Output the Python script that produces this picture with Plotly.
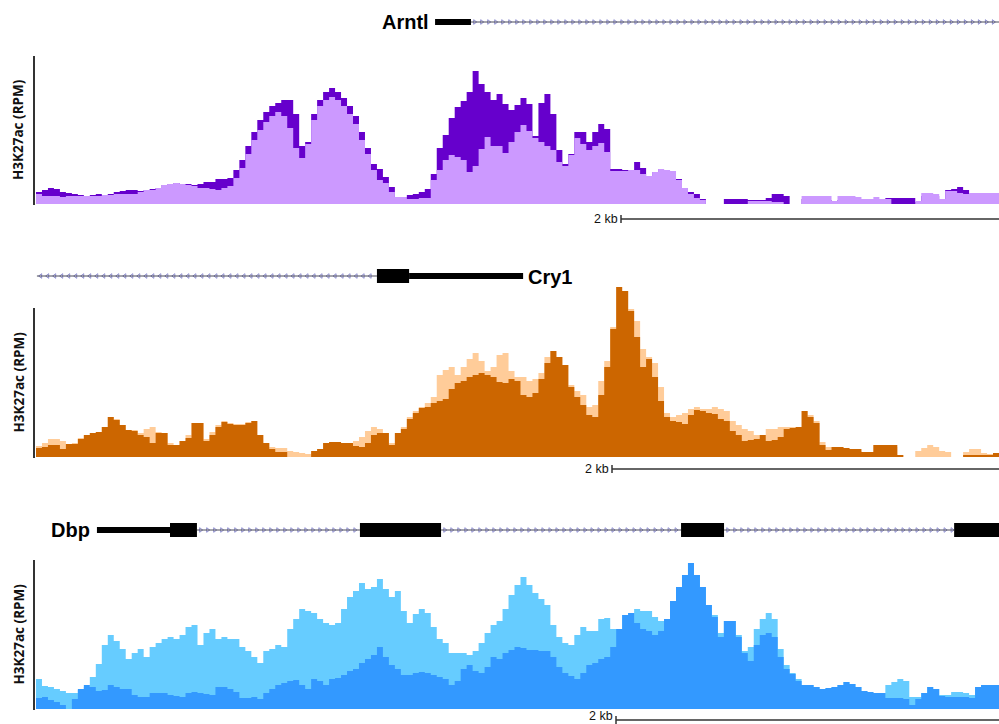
import numpy as np
import plotly.graph_objects as go

W, H = 999, 724
BIN_KB = 0.032  # width of one coverage bin, in kb

# ---- H3K27ac coverage (RPM, binned) -------------------------------------
ARNTL_DARK = [12, 14, 16, 15, 12, 11, 10, 9, 8, 9, 10, 9, 10, 12, 13, 14, 14, 13, 14, 15,
              16, 19, 20, 21, 20, 20, 19, 20, 22, 22, 25, 25, 26, 34, 44, 58, 72, 84, 92, 98,
              101, 104, 104, 90, 58, 62, 90, 104, 112, 116, 112, 106, 98, 88, 72, 56, 40, 35, 27, 17,
              7, 7, 9, 10, 12, 15, 30, 56, 69, 86, 97, 103, 112, 133, 120, 112, 104, 110, 100, 94,
              99, 106, 100, 68, 101, 110, 90, 54, 40, 50, 72, 72, 62, 72, 80, 75, 35, 35, 34, 34,
              42, 36, 28, 32, 35, 34, 33, 25, 16, 12, 10, 5, 0, 0, 0, 5, 5, 5, 5, 4,
              4, 4, 6, 10, 10, 8, 0, 0, 5, 4, 4, 4, 4, 3, 4, 4, 4, 4, 3, 3,
              3, 4, 6, 6, 6, 6, 6, 2, 8, 8, 8, 5, 14, 15, 17, 14, 10, 9, 8, 9, 9]
ARNTL_LIGHT = [10, 8, 8, 8, 7, 8, 8, 8, 8, 8, 8, 9, 9, 10, 10, 10, 10, 12, 14, 14,
               16, 19, 20, 21, 20, 19, 18, 16, 16, 15, 14, 16, 18, 26, 36, 50, 64, 74, 82, 88,
               92, 88, 76, 56, 46, 60, 84, 98, 104, 107, 104, 98, 90, 80, 64, 50, 34, 24, 21, 12,
               7, 7, 5, 5, 6, 6, 24, 34, 44, 49, 47, 44, 32, 38, 55, 67, 58, 58, 51, 62,
               72, 79, 73, 66, 62, 58, 54, 42, 38, 49, 66, 60, 54, 58, 61, 52, 33, 33, 33, 34,
               34, 30, 28, 32, 35, 34, 33, 24, 16, 10, 6, 4, 0, 0, 0, 0, 0, 0, 0, 3,
               3, 3, 3, 2, 2, 0, 0, 0, 8, 8, 8, 8, 8, 3, 8, 8, 8, 7, 5, 5,
               7, 5, 5, 0, 0, 0, 0, 3, 11, 11, 10, 5, 13, 13, 11, 10, 11, 11, 11, 11, 11]

CRY1_LIGHT = [11, 14, 18, 18, 16, 13, 14, 19, 22, 24, 25, 30, 40, 38, 32, 27, 27, 24, 28, 30,
              25, 24, 14, 12, 16, 22, 34, 34, 18, 25, 32, 36, 34, 33, 33, 35, 36, 22, 14, 10,
              9, 9, 6, 5, 4, 3, 4, 8, 14, 15, 15, 14, 14, 16, 20, 26, 30, 28, 24, 14,
              24, 30, 40, 46, 50, 54, 60, 82, 87, 90, 82, 90, 98, 104, 96, 86, 90, 102, 104, 86,
              80, 80, 76, 78, 84, 100, 106, 100, 92, 72, 66, 62, 50, 52, 76, 96, 130, 170, 166, 148,
              136, 108, 100, 94, 70, 44, 40, 42, 44, 48, 50, 48, 48, 50, 48, 46, 36, 32, 28, 26,
              22, 22, 28, 28, 30, 30, 30, 30, 46, 42, 36, 15, 10, 10, 10, 9, 7, 6, 5, 5,
              12, 12, 12, 10, 2, 0, 0, 6, 9, 12, 10, 6, 5, 0, 0, 5, 8, 8, 4, 3, 3]
CRY1_DARK = [9, 10, 12, 12, 8, 13, 13, 18, 22, 24, 25, 30, 40, 37, 32, 27, 26, 22, 20, 14,
             24, 24, 12, 12, 16, 19, 34, 34, 16, 22, 30, 35, 33, 32, 32, 34, 36, 22, 14, 8,
             5, 5, 0, 0, 0, 0, 6, 8, 14, 15, 15, 14, 14, 11, 10, 14, 22, 24, 24, 12,
             24, 28, 38, 44, 49, 50, 54, 56, 58, 68, 74, 76, 80, 82, 84, 82, 80, 75, 74, 78,
             76, 62, 60, 64, 78, 94, 106, 100, 92, 70, 60, 52, 42, 40, 62, 90, 128, 170, 166, 146,
             120, 90, 98, 80, 56, 40, 36, 35, 33, 42, 47, 46, 44, 43, 38, 36, 26, 22, 16, 17,
             18, 22, 16, 17, 20, 28, 29, 30, 46, 40, 34, 12, 7, 10, 10, 9, 8, 8, 5, 5,
             12, 12, 12, 12, 2, 0, 0, 0, 0, 0, 0, 0, 0, 0, 0, 2, 2, 2, 2, 2, 4]

DBP_LIGHT = [30, 23, 22, 20, 18, 16, 16, 19, 22, 32, 45, 64, 74, 68, 60, 50, 56, 60, 52, 62,
             66, 70, 72, 70, 74, 82, 84, 64, 76, 80, 70, 72, 70, 70, 62, 58, 52, 46, 58, 60,
             64, 62, 80, 90, 100, 98, 96, 90, 86, 84, 86, 100, 112, 118, 126, 120, 122, 130, 120, 112,
             118, 98, 86, 95, 100, 96, 82, 70, 66, 56, 56, 56, 54, 58, 66, 76, 84, 88, 100, 114,
             124, 132, 124, 116, 110, 104, 84, 72, 66, 64, 74, 82, 78, 78, 90, 91, 80, 80, 94, 96,
             100, 98, 98, 92, 88, 90, 108, 122, 134, 146, 134, 122, 104, 94, 76, 88, 88, 74, 58, 62,
             80, 90, 96, 90, 60, 44, 36, 30, 24, 24, 22, 20, 21, 22, 24, 27, 25, 22, 18, 17,
             16, 16, 24, 27, 30, 28, 12, 12, 16, 22, 20, 14, 14, 17, 17, 16, 14, 22, 24, 24, 24]
DBP_DARK = [11, 12, 9, 7, 4, 0, 10, 20, 24, 22, 18, 19, 24, 22, 20, 20, 14, 12, 12, 16,
            16, 16, 14, 13, 12, 16, 17, 16, 15, 14, 22, 22, 20, 17, 11, 11, 12, 10, 16, 20,
            24, 26, 28, 29, 24, 20, 30, 28, 24, 30, 31, 34, 38, 40, 46, 50, 54, 62, 52, 44,
            40, 34, 34, 36, 37, 36, 34, 32, 30, 24, 28, 40, 44, 38, 36, 42, 52, 50, 56, 59,
            62, 61, 59, 59, 58, 58, 52, 42, 36, 33, 30, 36, 44, 46, 50, 52, 62, 80, 94, 96,
            86, 80, 78, 74, 78, 90, 108, 122, 134, 146, 134, 122, 104, 92, 72, 88, 88, 72, 56, 48,
            64, 74, 76, 72, 52, 40, 35, 28, 24, 24, 22, 20, 21, 22, 24, 27, 25, 22, 18, 17,
            16, 16, 11, 11, 11, 10, 4, 10, 16, 22, 20, 13, 12, 12, 12, 12, 11, 22, 24, 24, 24]

# ---- gene models (kb, same coordinates as the coverage) -----------------
ARNTL_UTR = [(2.135, 2.327)]
ARNTL_CDS = []
ARNTL_INTRONS = [(2.327, 5.152)]

CRY1_UTR = [(1.996, 2.606)]
CRY1_CDS = [(1.824, 1.996)]
CRY1_INTRONS = [(0.005, 1.824)]

DBP_UTR = [(0.326, 0.717)]
DBP_CDS = [(0.717, 0.861), (1.733, 2.167), (3.451, 3.681), (4.912, 5.152)]
DBP_INTRONS = [(0.861, 1.733), (2.167, 3.451), (3.681, 4.912)]

N = len(ARNTL_LIGHT)
EDGES = np.arange(N + 1) * BIN_KB
XMAX = N * BIN_KB


def py(px):
    """pixel row -> paper y"""
    return 1 - px / H


def px_x(px):
    return px / W


# panel geometry: (baseline px, y-range in RPM units, axis-line top px)
PANELS = [
    dict(base=204, span=150, top=56, gene_y=22, scale_y=219, scale_x=621),
    dict(base=457, span=185, top=308, gene_y=276, scale_y=469, scale_x=612),
    dict(base=709, span=155, top=560, gene_y=530, scale_y=720, scale_x=616),
]

fig = go.Figure()


def add_track(panel_idx, back, front, back_color, front_color):
    xa = "x" if panel_idx == 0 else f"x{panel_idx + 1}"
    ya = "y" if panel_idx == 0 else f"y{panel_idx + 1}"
    for vals, col in ((back, back_color), (front, front_color)):
        yv = list(vals) + [vals[-1]]
        fig.add_trace(go.Scatter(
            x=EDGES, y=yv, xaxis=xa, yaxis=ya, mode="lines",
            line=dict(width=0, shape="hv", color=col),
            fill="tozeroy", fillcolor=col, hoverinfo="skip", showlegend=False))


add_track(0, ARNTL_DARK, ARNTL_LIGHT, "#6600cc", "#cc99ff")
add_track(1, CRY1_LIGHT, CRY1_DARK, "#ffcc99", "#cc6600")
add_track(2, DBP_LIGHT, DBP_DARK, "#66ccff", "#3399ff")

shapes = []
annotations = []

GENES = [
    ("Arntl", ARNTL_UTR, ARNTL_CDS, ARNTL_INTRONS, "+"),
    ("Cry1", CRY1_UTR, CRY1_CDS, CRY1_INTRONS, "-"),
    ("Dbp", DBP_UTR, DBP_CDS, DBP_INTRONS, "+"),
]

for i, (name, utr, cds, introns, strand) in enumerate(GENES):
    p = PANELS[i]
    xa = "x" if i == 0 else f"x{i + 1}"
    gy = p["gene_y"]
    # intron backbone with strand chevrons
    for s, e in introns:
        shapes.append(dict(type="line", xref=xa, yref="paper", x0=s, x1=e,
                           y0=py(gy), y1=py(gy), line=dict(color="#4a4a5a", width=1)))
        marks = np.arange(s + 0.02, e - 0.01, 0.0375)
        fig.add_trace(go.Scatter(
            x=marks, y=[gy] * len(marks), xaxis=xa, yaxis=f"y{i + 4}", mode="markers",
            marker=dict(symbol="triangle-right-open" if strand == "+" else "triangle-left-open",
                        size=4, color="#8f8fd0", line=dict(width=1, color="#8f8fd0")),
            hoverinfo="skip", showlegend=False))
    for s, e in utr:
        shapes.append(dict(type="rect", xref=xa, yref="paper", x0=s, x1=e,
                           y0=py(gy + 3), y1=py(gy - 3), fillcolor="black", line=dict(width=0)))
    for s, e in cds:
        shapes.append(dict(type="rect", xref=xa, yref="paper", x0=s, x1=e,
                           y0=py(gy + 7), y1=py(gy - 7), fillcolor="black", line=dict(width=0)))

    # vertical axis bar
    shapes.append(dict(type="line", xref="paper", yref="paper", x0=px_x(34), x1=px_x(34),
                       y0=py(p["base"] + 1), y1=py(p["top"]), line=dict(color="#333333", width=2)))
    # scale bar
    sx, sy = p["scale_x"], p["scale_y"]
    shapes.append(dict(type="line", xref="paper", yref="paper", x0=px_x(sx), x1=1,
                       y0=py(sy), y1=py(sy), line=dict(color="#333333", width=1.5)))
    shapes.append(dict(type="line", xref="paper", yref="paper", x0=px_x(sx), x1=px_x(sx),
                       y0=py(sy - 4), y1=py(sy + 4), line=dict(color="#333333", width=1.5)))
    annotations.append(dict(text="2 kb", xref="paper", yref="paper", x=px_x(sx - 1),
                            y=py(min(sy, 716)), xanchor="right", yanchor="middle", showarrow=False,
                            font=dict(family="Liberation Sans", size=12.5, color="#111111")))
    # y-axis title
    annotations.append(dict(text="<b>H3K27ac (RPM)</b>", xref="paper", yref="paper",
                            x=px_x(18), y=py((p["base"] + p["top"]) / 2), textangle=-90,
                            xanchor="center", yanchor="middle", showarrow=False,
                            font=dict(family="Open Sans", size=13.5, color="#111111")))

# gene names
annotations.append(dict(text="<b>Arntl</b>", xref="paper", yref="paper", x=px_x(431), y=py(22),
                        xanchor="right", yanchor="middle", showarrow=False,
                        font=dict(family="Liberation Sans", size=20, color="black")))
annotations.append(dict(text="<b>Cry1</b>", xref="paper", yref="paper", x=px_x(526), y=py(277),
                        xanchor="left", yanchor="middle", showarrow=False,
                        font=dict(family="Liberation Sans", size=20, color="black")))
annotations.append(dict(text="<b>Dbp</b>", xref="paper", yref="paper", x=px_x(92), y=py(530),
                        xanchor="right", yanchor="middle", showarrow=False,
                        font=dict(family="Liberation Sans", size=20, color="black")))

layout = dict(
    width=W, height=H, margin=dict(l=0, r=0, t=0, b=0),
    paper_bgcolor="white", plot_bgcolor="white",
    shapes=shapes, annotations=annotations, showlegend=False,
)

xdom = [36 / W, 1]
for i, p in enumerate(PANELS):
    sfx = "" if i == 0 else str(i + 1)
    layout[f"xaxis{sfx}"] = dict(domain=xdom, range=[0, XMAX], visible=False, fixedrange=True)
    layout[f"yaxis{sfx}"] = dict(domain=[py(p["base"]), py(p["base"] - p["span"])],
                                 range=[0, p["span"]], visible=False, fixedrange=True,
                                 anchor=f"x{sfx}")
    # gene-track axis in pixel-row units
    gy = p["gene_y"]
    layout[f"yaxis{i + 4}"] = dict(domain=[py(gy + 10), py(gy - 10)], range=[gy + 10, gy - 10],
                                   visible=False, fixedrange=True, anchor=f"x{sfx}")

fig.update_layout(**layout)
fig.write_html("out.html")
